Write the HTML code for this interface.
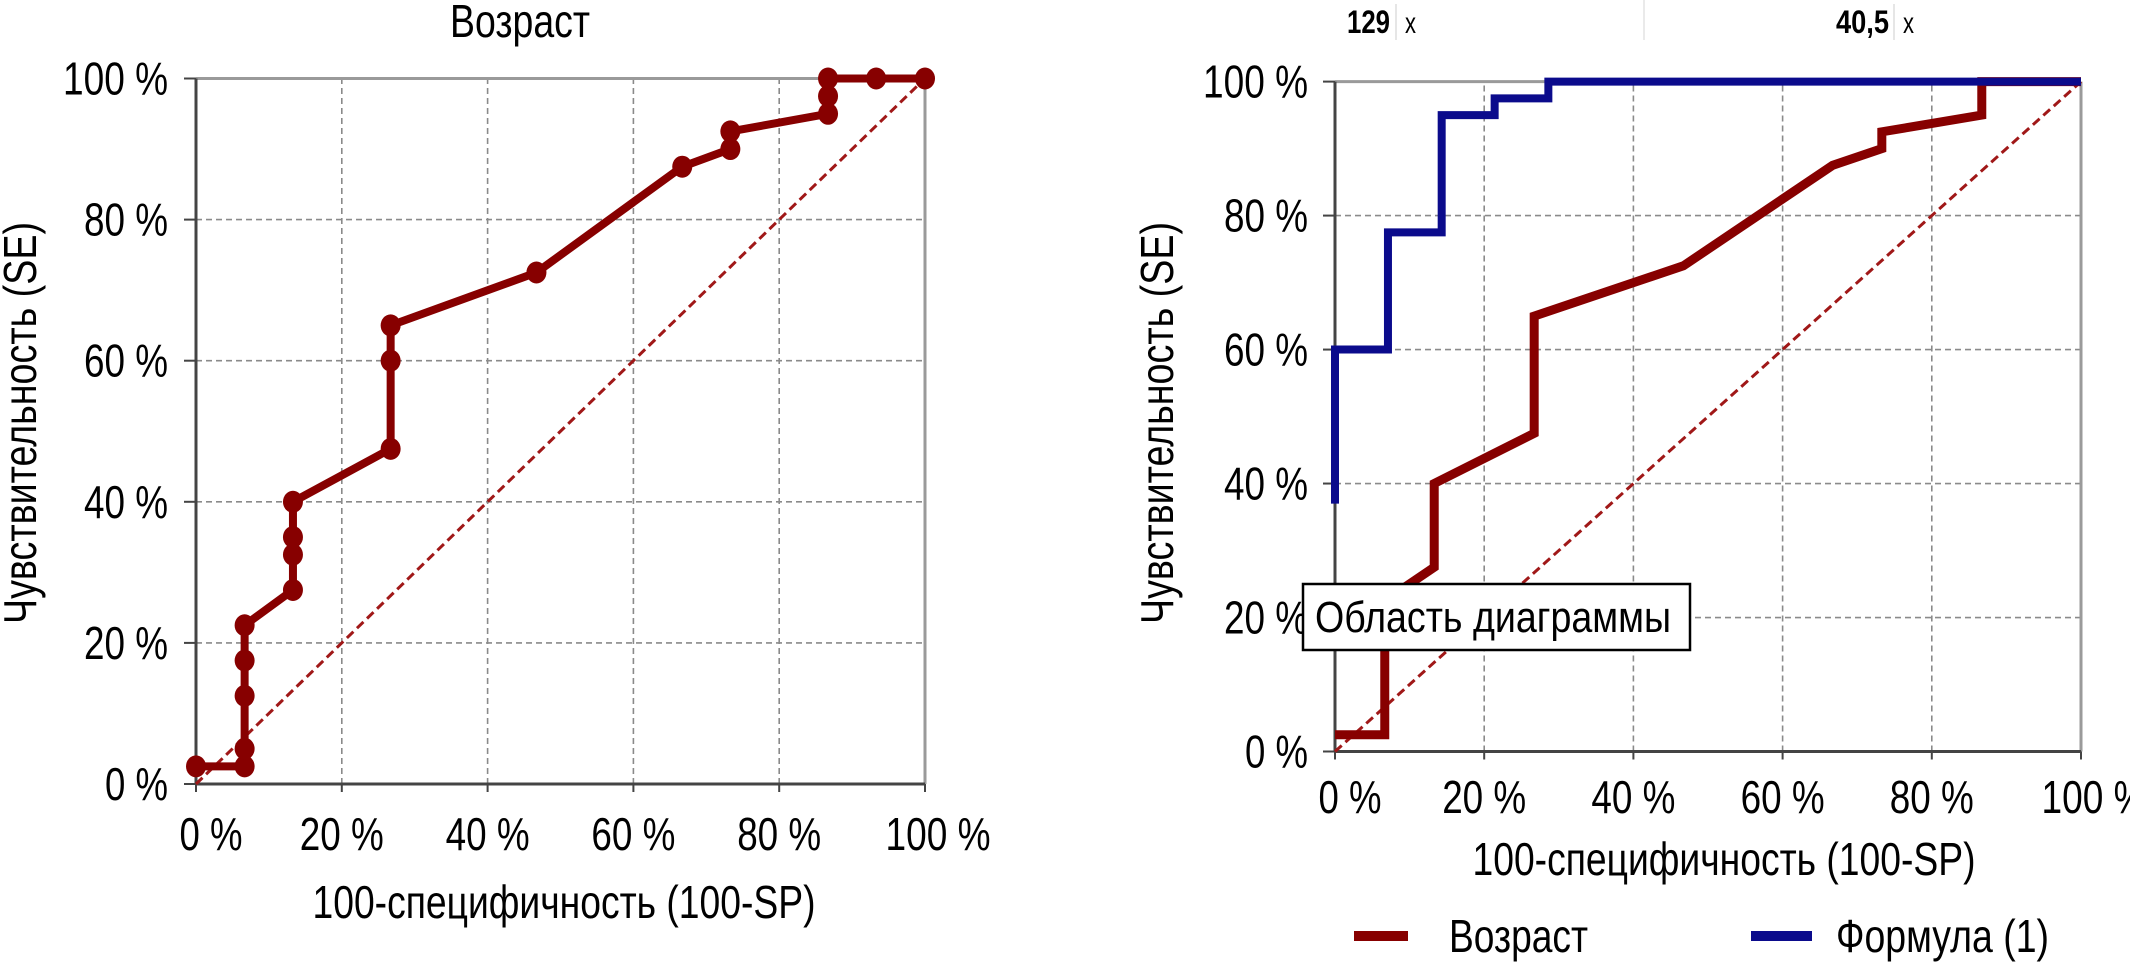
<!DOCTYPE html>
<html><head><meta charset="utf-8"><style>
html,body{margin:0;padding:0;background:#fff;}
svg{display:block;font-family:"Liberation Sans","DejaVu Sans",sans-serif;}
</style></head><body>
<svg id="svg" width="2130" height="962" viewBox="0 0 2130 962" xmlns="http://www.w3.org/2000/svg"></svg>
<script>
// ---- data ----
const ticks = [0, 20, 40, 60, 80, 100];
const tickLabels = ["0 %", "20 %", "40 %", "60 %", "80 %", "100 %"];
const ageX = [0, 6.67, 6.67, 6.67, 6.67, 6.67, 13.3, 13.3, 13.3, 13.3, 26.7, 26.7, 26.7, 46.7, 66.7, 73.3, 73.3, 86.7, 86.7, 86.7, 93.3, 100];
const ageY = [2.5, 2.5, 5, 12.5, 17.5, 22.5, 27.5, 32.5, 35, 40, 47.5, 60, 65, 72.5, 87.5, 90, 92.5, 95, 97.5, 100, 100, 100];
const formX = [0, 0, 7.1, 7.1, 14.3, 14.3, 21.4, 21.4, 28.6, 28.6, 100];
const formY = [37, 60, 60, 77.5, 77.5, 95, 95, 97.5, 97.5, 100, 100];

const NS = "http://www.w3.org/2000/svg";
const svg = document.getElementById('svg');
function mk(tag, attrs, parent, text) {
  const e = document.createElementNS(NS, tag);
  for (const k in attrs) e.setAttribute(k, attrs[k]);
  if (text !== undefined) e.textContent = text;
  (parent || svg).appendChild(e);
  return e;
}
const RED = "#870000", BLUE = "#0b0b8c";
const FS = 46;

function chart(P, id) {
  const g = mk('g', {});
  
  
  const sx = v => P.x0 + (P.x1 - P.x0) * v / 100;
  const sy = v => P.y0 + (P.y1 - P.y0) * v / 100;
  ticks.forEach((t, i) => {
    if (t > 0 && t < 100) {
      const gx = mk('line', {x1: sx(t), x2: sx(t), y1: sy(0), y2: sy(100), stroke: '#8a8a8a', 'stroke-width': 1.6, 'stroke-dasharray': '6,4'}, g);
      
      
      const gy = mk('line', {x1: sx(0), x2: sx(100), y1: sy(t), y2: sy(t), stroke: '#8a8a8a', 'stroke-width': 1.6, 'stroke-dasharray': '6,4'}, g);
      
      
    }
  });
  mk('line', {x1: sx(0), x2: sx(100), y1: sy(100), y2: sy(100), stroke: '#9a9a9a', 'stroke-width': 3}, g);
  mk('line', {x1: sx(100), x2: sx(100), y1: sy(0), y2: sy(100), stroke: '#9a9a9a', 'stroke-width': 3}, g);
  const ya = mk('line', {x1: sx(0), x2: sx(0), y1: sy(0), y2: sy(100), stroke: '#444', 'stroke-width': 3}, g);
  
  
  const xa = mk('line', {x1: sx(0), x2: sx(100), y1: sy(0), y2: sy(0), stroke: '#444', 'stroke-width': 3}, g);
  
  
  ticks.forEach((t, i) => {
    mk('line', {x1: sx(0) - 12, x2: sx(0), y1: sy(t), y2: sy(t), stroke: '#444', 'stroke-width': 2}, g);
    mk('line', {x1: sx(t), x2: sx(t), y1: sy(0), y2: sy(0) + 8, stroke: '#444', 'stroke-width': 2}, g);
    const w = tickLabels[i].length * 21;
    const ty = mk('text', {x: P.ylabR, y: sy(t) + 16, 'text-anchor': 'end', 'font-size': FS, textLength: w, lengthAdjust: 'spacingAndGlyphs'}, g, tickLabels[i]);
    
    
    const off = t === 0 ? 15 : (t === 100 ? 13 : 0);
    const tx = mk('text', {x: sx(t) + off, y: P.xlabY + 16, 'text-anchor': 'middle', 'font-size': FS, textLength: w, lengthAdjust: 'spacingAndGlyphs'}, g, tickLabels[i]);
    
    
  });
  const dg = mk('line', {x1: sx(0), y1: sy(0), x2: sx(100), y2: sy(100), stroke: '#a01818', 'stroke-width': 3, 'stroke-dasharray': '9,5'}, g);
  
  
  const xt = mk('text', {x: P.xtX, y: P.xtY + 16, 'text-anchor': 'middle', 'font-size': FS, textLength: 503, lengthAdjust: 'spacingAndGlyphs'}, g, '100-специфичность (100-SP)');
  
  
  const yt = mk('text', {x: 0, y: 0, 'text-anchor': 'middle', 'font-size': FS, textLength: 402, lengthAdjust: 'spacingAndGlyphs', transform: `translate(${P.ytX + 16},${P.ytY}) rotate(-90)`}, g, 'Чувствительность (SE)');
  
  
  return {g, sx, sy};
}
function series(c, xs, ys, color, w, name, markers) {
  const pts = xs.map((x, i) => c.sx(x) + ',' + c.sy(ys[i])).join(' ');
  const pl = mk('polyline', {points: pts, fill: 'none', stroke: color, 'stroke-width': w, 'stroke-linejoin': 'miter'}, c.g);
  
  
  if (markers) xs.forEach((x, i) => {
    const m = mk('ellipse', {cx: c.sx(x), cy: c.sy(ys[i]), rx: 10, ry: 11, fill: color}, c.g);
    
    
  });
}

const L = chart({x0: 196, x1: 925, y0: 784, y1: 78.5, ylabR: 168, xlabY: 834, xtX: 564, xtY: 902, ytX: 20, ytY: 423}, 'left');
series(L, ageX, ageY, RED, 8, 'age-roc-line', true);
const t1 = mk('text', {x: 520, y: 37, 'text-anchor': 'middle', 'font-size': FS, textLength: 140, lengthAdjust: 'spacingAndGlyphs'}, L.g, 'Возраст');



const R = chart({x0: 1335, x1: 2081, y0: 751.5, y1: 81.6, ylabR: 1308, xlabY: 797, xtX: 1724, xtY: 859, ytX: 1157, ytY: 423}, 'right');
series(R, ageX, ageY, RED, 9, 'age-roc-line-right', false);
series(R, formX, formY, BLUE, 8, 'formula-roc-line', false);

const tb = mk('rect', {x: 1303, y: 584, width: 387, height: 66, fill: '#fff', stroke: '#000', 'stroke-width': 2.5});


const tt = mk('text', {x: 1315, y: 632, 'font-size': 44, textLength: 356, lengthAdjust: 'spacingAndGlyphs'}, svg, 'Область диаграммы');



const h1 = mk('text', {x: 1347, y: 33, 'font-size': 32, 'font-weight': 'bold', textLength: 43, lengthAdjust: 'spacingAndGlyphs'}, svg, '129');


mk('line', {x1: 1396, x2: 1396, y1: 4, y2: 40, stroke: '#ccc', 'stroke-width': 1});
const hx1 = mk('text', {x: 1405, y: 33, 'font-size': 30, textLength: 11, lengthAdjust: 'spacingAndGlyphs'}, svg, 'x');


mk('line', {x1: 1644, x2: 1644, y1: 0, y2: 40, stroke: '#e2e2e2', 'stroke-width': 1.5});
const h2 = mk('text', {x: 1836, y: 33, 'font-size': 32, 'font-weight': 'bold', textLength: 53, lengthAdjust: 'spacingAndGlyphs'}, svg, '40,5');


mk('line', {x1: 1894, x2: 1894, y1: 4, y2: 40, stroke: '#ccc', 'stroke-width': 1});
const hx2 = mk('text', {x: 1903, y: 33, 'font-size': 30, textLength: 11, lengthAdjust: 'spacingAndGlyphs'}, svg, 'x');



const lg = mk('g', {});


const l1 = mk('line', {x1: 1354, x2: 1408, y1: 936, y2: 936, stroke: RED, 'stroke-width': 10}, lg);


const lt1 = mk('text', {x: 1449, y: 952, 'font-size': FS, textLength: 139, lengthAdjust: 'spacingAndGlyphs'}, lg, 'Возраст');


const l2 = mk('line', {x1: 1751, x2: 1812, y1: 936, y2: 936, stroke: BLUE, 'stroke-width': 10}, lg);


const lt2 = mk('text', {x: 1836, y: 952, 'font-size': FS, textLength: 213, lengthAdjust: 'spacingAndGlyphs'}, lg, 'Формула (1)');


</script>
</body></html>
